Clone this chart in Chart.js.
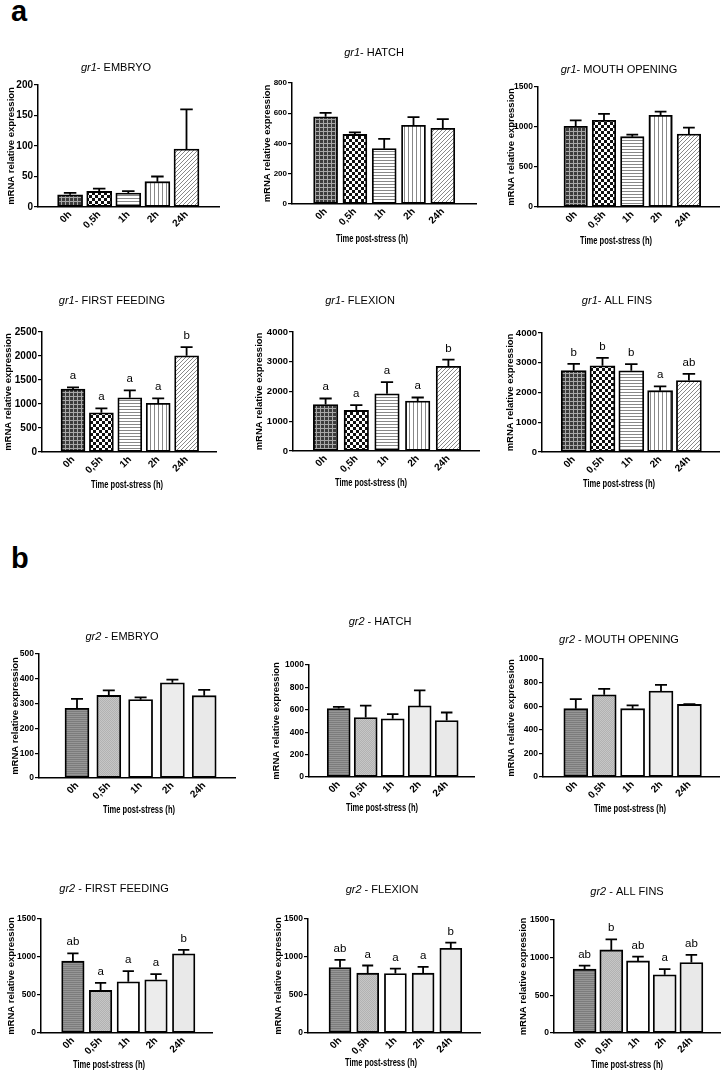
<!DOCTYPE html>
<html>
<head>
<meta charset="utf-8">
<script src="https://cdn.jsdelivr.net/npm/chart.js@4"></script>
<style>
  body { margin: 0; background: #fff; width: 728px; height: 1073px; position: relative; overflow: hidden;
         font-family: 'Liberation Sans', Arial, sans-serif; }
  canvas { position: absolute; }
  .tag { position: absolute; font-weight: bold; font-size: 29px; line-height: 1; }
</style>
</head>
<body>
<div class="tag" style="left:11px;top:-3px">a</div>
<div class="tag" style="left:11px;top:544px">b</div>
<script>
const timeLabels = ["0h", "0,5h", "1h", "2h", "24h"];

// gr1 - mean and upper SEM
const gr1EmbryoMean = [20, 25.5, 23, 41.5, 95];
const gr1EmbryoSem = [3, 4.5, 3, 8.5, 65];
const gr1HatchMean = [577, 460, 366, 520, 500];
const gr1HatchSem = [26, 14, 64, 55, 61];
const gr1MouthMean = [1008, 1083, 879, 1146, 913];
const gr1MouthSem = [75, 80, 25, 46, 79];
const gr1FeedingMean = [1313, 817, 1131, 1013, 2004];
const gr1FeedingSem = [35, 91, 154, 104, 182];
const gr1FeedingLetters = ["a", "a", "a", "a", "b"];
const gr1FlexionMean = [1564, 1363, 1922, 1676, 2849];
const gr1FlexionSem = [201, 179, 391, 123, 224];
const gr1FlexionLetters = ["a", "a", "a", "a", "b"];
const gr1FinsMean = [2738, 2896, 2727, 2062, 2400];
const gr1FinsSem = [225, 270, 225, 146, 225];
const gr1FinsLetters = ["b", "b", "b", "a", "ab"];

// gr2
const gr2EmbryoMean = [281, 333, 316, 384, 332];
const gr2EmbryoSem = [38, 20, 9, 13, 23];
const gr2HatchMean = [611, 531, 519, 635, 504];
const gr2HatchSem = [15, 107, 42, 139, 72];
const gr2MouthMean = [579, 697, 579, 728, 615];
const gr2MouthSem = [81, 50, 28, 53, 3];
const gr2FeedingMean = [945, 560, 673, 700, 1041];
const gr2FeedingSem = [104, 100, 140, 74, 52];
const gr2FeedingLetters = ["ab", "a", "a", "a", "b"];
const gr2FlexionMean = [861, 787, 783, 787, 1115];
const gr2FlexionSem = [101, 101, 65, 83, 75];
const gr2FlexionLetters = ["ab", "a", "a", "a", "b"];
const gr2FinsMean = [847, 1103, 957, 772, 935];
const gr2FinsSem = [48, 141, 58, 75, 102];
const gr2FinsLetters = ["ab", "b", "ab", "a", "ab"];

// y axis range and tick step, panel by panel (left to right, top to bottom)
const yMaxes = [200, 800, 1500, 2500, 4000, 4000, 500, 1000, 1000, 1500, 1500, 1500];
const ySteps = [50, 200, 500, 500, 1000, 1000, 100, 200, 200, 500, 500, 500];

const family = "'Liberation Sans', Arial, sans-serif";

const makePattern = (w, h, draw) => {
    const c = document.createElement("canvas");
    c.width = w;
    c.height = h;
    const g = c.getContext("2d");
    draw(g);
    return g.createPattern(c, "repeat");
};

const gr1Fills = [
    makePattern(4, 4, g => {
        g.fillStyle = "#3c3c3c"; g.fillRect(0, 0, 4, 4);
        g.fillStyle = "#a8a8a8"; g.fillRect(0, 3, 4, 1); g.fillRect(3, 0, 1, 4);
    }),
    makePattern(6, 6, g => {
        g.fillStyle = "#fff"; g.fillRect(0, 0, 6, 6);
        g.fillStyle = "#111"; g.fillRect(0, 0, 3, 3); g.fillRect(3, 3, 3, 3);
    }),
    makePattern(1, 3, g => {
        g.fillStyle = "#fff"; g.fillRect(0, 0, 1, 3);
        g.fillStyle = "#888"; g.fillRect(0, 0, 1, 1);
    }),
    makePattern(4, 1, g => {
        g.fillStyle = "#fff"; g.fillRect(0, 0, 4, 1);
        g.fillStyle = "#888"; g.fillRect(0, 0, 1, 1);
    }),
    makePattern(4, 4, g => {
        g.fillStyle = "#fff"; g.fillRect(0, 0, 4, 4);
        g.fillStyle = "#888";
        g.fillRect(3, 0, 1, 1); g.fillRect(2, 1, 1, 1); g.fillRect(1, 2, 1, 1); g.fillRect(0, 3, 1, 1);
    })
];

const gr2Fills = [
    makePattern(1, 2, g => {
        g.fillStyle = "#7c7c7c"; g.fillRect(0, 0, 1, 1);
        g.fillStyle = "#969696"; g.fillRect(0, 1, 1, 1);
    }),
    makePattern(2, 2, g => {
        g.fillStyle = "#c6c6c6"; g.fillRect(0, 0, 2, 2);
        g.fillStyle = "#b2b2b2"; g.fillRect(0, 0, 1, 1); g.fillRect(1, 1, 1, 1);
    }),
    "#ffffff",
    "#ececec",
    "#e9e9e9"
];

// plot box (y axis x, top, x axis end, zero line), first / last bar centres, bar width
const panels = [
    { gene: "gr1", sep: "- ", stage: "EMBRYO", mean: gr1EmbryoMean, sem: gr1EmbryoSem, letters: null, fills: gr1Fills,
      L: 38, T: 85, R: 219, B: 207, c0: 55.5, c4: 201, bw: 25, title: [116, 68], xTitle: null, yTitleX: 11, tick: 10 },
    { gene: "gr1", sep: "- ", stage: "HATCH", mean: gr1HatchMean, sem: gr1HatchSem, letters: null, fills: gr1Fills,
      L: 292, T: 83, R: 476, B: 204, c0: 311, c4: 457.5, bw: 24, title: [374, 53], xTitle: [372, 239], yTitleX: 267, tick: 8 },
    { gene: "gr1", sep: "- ", stage: "MOUTH OPENING", mean: gr1MouthMean, sem: gr1MouthSem, letters: null, fills: gr1Fills,
      L: 538, T: 87, R: 719, B: 207, c0: 562.5, c4: 704, bw: 23.5, title: [619, 70], xTitle: [616, 241], yTitleX: 511, tick: 8.5 },
    { gene: "gr1", sep: "- ", stage: "FIRST FEEDING", mean: gr1FeedingMean, sem: gr1FeedingSem, letters: gr1FeedingLetters, fills: gr1Fills,
      L: 42, T: 332, R: 216, B: 452, c0: 59, c4: 201, bw: 24, title: [112, 301], xTitle: [127, 485], yTitleX: 8, tick: 10 },
    { gene: "gr1", sep: "- ", stage: "FLEXION", mean: gr1FlexionMean, sem: gr1FlexionSem, letters: gr1FlexionLetters, fills: gr1Fills,
      L: 293, T: 332, R: 479, B: 451, c0: 310.5, c4: 464, bw: 24.5, title: [360, 301], xTitle: [371, 483], yTitleX: 259, tick: 9.5 },
    { gene: "gr1", sep: "- ", stage: "ALL FINS", mean: gr1FinsMean, sem: gr1FinsSem, letters: gr1FinsLetters, fills: gr1Fills,
      L: 542, T: 333, R: 719, B: 452, c0: 559.5, c4: 703.5, bw: 25, title: [617, 301], xTitle: [619, 484], yTitleX: 510, tick: 9.5 },
    { gene: "gr2", sep: " - ", stage: "EMBRYO", mean: gr2EmbryoMean, sem: gr2EmbryoSem, letters: null, fills: gr2Fills,
      L: 39, T: 654, R: 235, B: 778, c0: 62, c4: 221, bw: 24, title: [122, 637], xTitle: [139, 810], yTitleX: 15, tick: 8.5 },
    { gene: "gr2", sep: " - ", stage: "HATCH", mean: gr2HatchMean, sem: gr2HatchSem, letters: null, fills: gr2Fills,
      L: 309, T: 665, R: 474, B: 777, c0: 325.5, c4: 460.5, bw: 23, title: [380, 622], xTitle: [382, 808], yTitleX: 276, tick: 8.5 },
    { gene: "gr2", sep: " - ", stage: "MOUTH OPENING", mean: gr2MouthMean, sem: gr2MouthSem, letters: null, fills: gr2Fills,
      L: 543, T: 659, R: 719, B: 777, c0: 562, c4: 704, bw: 24, title: [619, 640], xTitle: [630, 809], yTitleX: 511, tick: 8.5 },
    { gene: "gr2", sep: " - ", stage: "FIRST FEEDING", mean: gr2FeedingMean, sem: gr2FeedingSem, letters: gr2FeedingLetters, fills: gr2Fills,
      L: 41, T: 919, R: 212, B: 1033, c0: 59.5, c4: 198, bw: 22.5, title: [114, 889], xTitle: [109, 1065], yTitleX: 11, tick: 8.5 },
    { gene: "gr2", sep: " - ", stage: "FLEXION", mean: gr2FlexionMean, sem: gr2FlexionSem, letters: gr2FlexionLetters, fills: gr2Fills,
      L: 308, T: 919, R: 480, B: 1033, c0: 326.5, c4: 465, bw: 22, title: [382, 890], xTitle: [381, 1063], yTitleX: 278, tick: 8.5 },
    { gene: "gr2", sep: " - ", stage: "ALL FINS", mean: gr2FinsMean, sem: gr2FinsSem, letters: gr2FinsLetters, fills: gr2Fills,
      L: 554, T: 920, R: 720, B: 1033, c0: 571.5, c4: 705, bw: 23, title: [627, 892], xTitle: [627, 1065], yTitleX: 523, tick: 8.5 }
];

const ML = 48, MT = 55, MR = 8, MB = 50;

panels.forEach((p, k) => {
    const cv = document.createElement("canvas");
    const ox = p.L - ML, oy = p.T - MT;
    const w = ML + (p.R - p.L) + MR, h = MT + (p.B - p.T) + MB;
    cv.width = w;
    cv.height = h;
    cv.style.left = ox + "px";
    cv.style.top = oy + "px";
    cv.style.width = w + "px";
    cv.style.height = h + "px";
    document.body.appendChild(cv);

    const step = (p.c4 - p.c0) / 4;

    // error bars, group letters, rotated time labels and the titles
    const deco = {
        id: "deco",
        afterDraw(chart) {
            const ctx = chart.ctx;
            const xs = chart.scales.x, ys = chart.scales.y;
            const bars = chart.getDatasetMeta(0).data;
            ctx.save();
            ctx.strokeStyle = "#000";
            ctx.fillStyle = "#000";
            ctx.lineWidth = 1.8;
            bars.forEach((bar, i) => {
                const yt = ys.getPixelForValue(p.mean[i] + p.sem[i]);
                const cw = p.bw * 0.5;
                ctx.beginPath();
                ctx.moveTo(bar.x, bar.y);
                ctx.lineTo(bar.x, yt);
                ctx.moveTo(bar.x - cw / 2, yt);
                ctx.lineTo(bar.x + cw / 2, yt);
                ctx.stroke();
                if (p.letters) {
                    ctx.font = `11.5px ${family}`;
                    ctx.textAlign = "center";
                    ctx.textBaseline = "alphabetic";
                    ctx.fillText(p.letters[i], bar.x, yt - 8);
                }
            });

            // time labels at 45 degrees, ending under each bar
            ctx.font = `bold 10px ${family}`;
            ctx.textAlign = "right";
            ctx.textBaseline = "middle";
            timeLabels.forEach((lab, i) => {
                ctx.save();
                ctx.translate(xs.getPixelForValue(i), ys.bottom + 6);
                ctx.rotate(-Math.PI / 4);
                ctx.fillText(lab, 0, 0);
                ctx.restore();
            });

            // panel title: italic gene name, plain stage
            const italic = `italic 11px ${family}`, plain = `11px ${family}`;
            const rest = p.sep + p.stage;
            ctx.font = italic;
            const w1 = ctx.measureText(p.gene).width;
            ctx.font = plain;
            const w2 = ctx.measureText(rest).width;
            const tx = p.title[0] - ox - (w1 + w2) / 2, ty = p.title[1] - oy;
            ctx.textAlign = "left";
            ctx.textBaseline = "middle";
            ctx.font = italic;
            ctx.fillText(p.gene, tx, ty);
            ctx.font = plain;
            ctx.fillText(rest, tx + w1, ty);

            // y axis title
            ctx.save();
            ctx.translate(p.yTitleX - ox, (p.T + p.B) / 2 - oy);
            ctx.rotate(-Math.PI / 2);
            ctx.font = `bold 9.5px ${family}`;
            ctx.textAlign = "center";
            ctx.fillText("mRNA relative expression", 0, 0);
            ctx.restore();

            // x axis title, set narrow like the original
            if (p.xTitle) {
                ctx.save();
                ctx.font = `bold 10.5px ${family}`;
                const label = "Time post-stress (h)";
                const sx = 72 / ctx.measureText(label).width;
                ctx.translate(p.xTitle[0] - ox, p.xTitle[1] - oy);
                ctx.scale(sx, 1);
                ctx.textAlign = "center";
                ctx.fillText(label, 0, 0);
                ctx.restore();
            }
            ctx.restore();
        }
    };

    new Chart(cv, {
        type: "bar",
        data: {
            datasets: [{
                data: p.mean.map((v, i) => ({ x: i, y: v })),
                backgroundColor: p.fills,
                borderColor: "#000",
                borderWidth: 1.8,
                borderSkipped: false,
                barThickness: p.bw
            }]
        },
        options: {
            responsive: false,
            animation: false,
            layout: { padding: { left: 0, top: MT, right: MR, bottom: 0 } },
            plugins: { legend: { display: false }, tooltip: { enabled: false } },
            scales: {
                x: {
                    type: "linear",
                    min: -(p.c0 - p.L) / step,
                    max: 4 + (p.R - p.c4) / step,
                    afterBuildTicks: s => { s.ticks = timeLabels.map((_, i) => ({ value: i })); },
                    afterFit: s => { s.height = MB; },
                    grid: { display: false },
                    border: { display: true, color: "#000", width: 1.5 },
                    ticks: { display: false }
                },
                y: {
                    min: 0,
                    max: yMaxes[k],
                    afterFit: s => { s.width = ML; },
                    grid: { display: true, drawOnChartArea: false, drawTicks: true, tickLength: 4, color: "#000", lineWidth: 1.2 },
                    border: { display: true, color: "#000", width: 1.5 },
                    ticks: {
                        stepSize: ySteps[k], padding: 1, color: "#000",
                        font: { family: family, size: p.tick, weight: "bold" },
                        callback: v => String(v)
                    }
                }
            }
        },
        plugins: [deco]
    });
});
</script>
</body>
</html>
